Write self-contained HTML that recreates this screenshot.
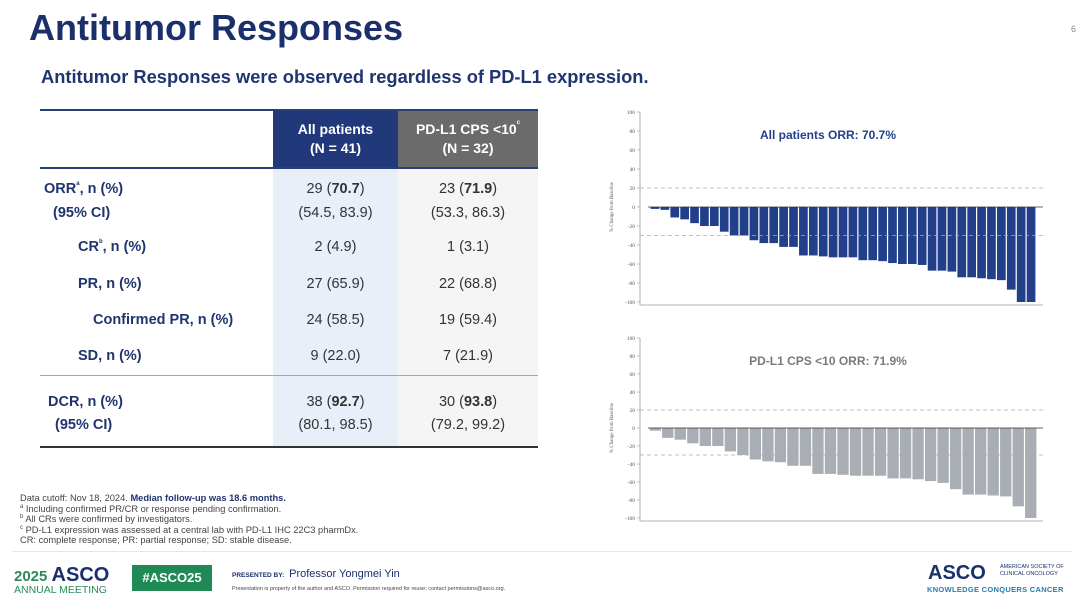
<!DOCTYPE html>
<html><head><meta charset="utf-8"><style>
*{margin:0;padding:0;box-sizing:border-box}
body{width:1080px;height:615px;background:#fff;position:relative;overflow:hidden;font-family:"Liberation Sans",Arial,sans-serif;color:#1f3470}
.a{position:absolute;white-space:nowrap}
.lab{font-weight:bold;font-size:14.5px;color:#1f3470}
.v{font-size:14.5px;color:#333;text-align:center}
.fn{font-size:9.3px;color:#444}
.sp{font-size:6px;vertical-align:top;line-height:6px}
</style></head><body>
<div class="a" style="left:29px;top:7px;font-size:36px;font-weight:bold;color:#1a2f6b">Antitumor Responses</div>
<div class="a" style="left:1071px;top:24px;font-size:9px;color:#888">6</div>
<div class="a" style="left:41px;top:66px;font-size:18.3px;font-weight:bold;color:#1f3470">Antitumor Responses were observed regardless of PD-L1 expression.</div>

<!-- table -->
<div class="a" style="left:273px;top:110px;width:125px;height:58px;background:#21397a"></div>
<div class="a" style="left:398px;top:110px;width:140px;height:58px;background:#6b6b6b"></div>
<div class="a" style="left:273px;top:168px;width:125px;height:279px;background:#e9eff8"></div>
<div class="a" style="left:398px;top:168px;width:140px;height:279px;background:#f5f5f5"></div>
<div class="a" style="left:40px;top:109px;width:498px;height:2px;background:#27407d"></div>
<div class="a" style="left:40px;top:167px;width:498px;height:2px;background:#27407d"></div>
<div class="a" style="left:40px;top:375px;width:498px;height:1px;background:#9aa8c6"></div>
<div class="a" style="left:40px;top:446px;width:498px;height:2px;background:#333"></div>
<div class="a" style="left:273px;top:120px;width:125px;text-align:center;color:#fff;font-weight:bold;font-size:14px;line-height:19px">All patients<br>(N = 41)</div>
<div class="a" style="left:398px;top:120px;width:140px;text-align:center;color:#fff;font-weight:bold;font-size:14px;line-height:19px">PD-L1 CPS &lt;10<span class="sp">c</span><br>(N = 32)</div>

<div class="a lab" style="left:44px;top:181px">ORR<span class="sp">a</span>, n (%)</div>
<div class="a lab" style="left:53px;top:205px">(95% CI)</div>
<div class="a lab" style="left:78px;top:239px">CR<span class="sp">b</span>, n (%)</div>
<div class="a lab" style="left:78px;top:276px">PR, n (%)</div>
<div class="a lab" style="left:93px;top:312px">Confirmed PR, n (%)</div>
<div class="a lab" style="left:78px;top:348px">SD, n (%)</div>
<div class="a lab" style="left:48px;top:394px">DCR, n (%)</div>
<div class="a lab" style="left:55px;top:417px">(95% CI)</div>

<div class="a v" style="left:273px;width:125px;top:181px">29 (<b>70.7</b>)</div>
<div class="a v" style="left:273px;width:125px;top:205px">(54.5, 83.9)</div>
<div class="a v" style="left:273px;width:125px;top:239px">2 (4.9)</div>
<div class="a v" style="left:273px;width:125px;top:276px">27 (65.9)</div>
<div class="a v" style="left:273px;width:125px;top:312px">24 (58.5)</div>
<div class="a v" style="left:273px;width:125px;top:348px">9 (22.0)</div>
<div class="a v" style="left:273px;width:125px;top:394px">38 (<b>92.7</b>)</div>
<div class="a v" style="left:273px;width:125px;top:417px">(80.1, 98.5)</div>
<div class="a v" style="left:398px;width:140px;top:181px">23 (<b>71.9</b>)</div>
<div class="a v" style="left:398px;width:140px;top:205px">(53.3, 86.3)</div>
<div class="a v" style="left:398px;width:140px;top:239px">1 (3.1)</div>
<div class="a v" style="left:398px;width:140px;top:276px">22 (68.8)</div>
<div class="a v" style="left:398px;width:140px;top:312px">19 (59.4)</div>
<div class="a v" style="left:398px;width:140px;top:348px">7 (21.9)</div>
<div class="a v" style="left:398px;width:140px;top:394px">30 (<b>93.8</b>)</div>
<div class="a v" style="left:398px;width:140px;top:417px">(79.2, 99.2)</div>

<!-- footnotes -->
<div class="a fn" style="left:20px;top:493px;line-height:10.6px">Data cutoff: Nov 18, 2024. <b style="color:#1f3470">Median follow-up was 18.6 months.</b><br><span class="sp">a</span> Including confirmed PR/CR or response pending confirmation.<br><span class="sp">b</span> All CRs were confirmed by investigators.<br><span class="sp">c</span> PD-L1 expression was assessed at a central lab with PD-L1 IHC 22C3 pharmDx.<br>CR: complete response; PR: partial response; SD: stable disease.</div>
<div class="a" style="left:12px;top:551px;width:1060px;height:1px;background:#e6e6e6"></div>
<div class="a" style="left:14px;top:565px;font-size:20px;font-weight:bold;color:#1a2f6b;line-height:20px"><span style="color:#2c8a5a;font-size:15px">2025 </span>ASCO</div>
<div class="a" style="left:14px;top:584px;font-size:10.5px;color:#2c8a5a">ANNUAL MEETING</div>
<div class="a" style="left:132px;top:565px;width:80px;height:26px;background:#1f8a56;color:#fff;font-weight:bold;font-size:13px;text-align:center;line-height:26px">#ASCO25</div>
<div class="a" style="left:232px;top:568px;font-size:11px;color:#1a2f6b"><span style="font-size:6.5px;font-weight:bold">PRESENTED BY: </span>&nbsp;Professor Yongmei Yin</div>
<div class="a" style="left:232px;top:586px;font-size:5.5px;color:#444">Presentation is property of the author and ASCO. Permission required for reuse; contact permissions@asco.org.</div>
<div class="a" style="left:928px;top:562px;font-size:20px;font-weight:bold;color:#1a2f6b;line-height:22px">ASCO</div>
<div class="a" style="left:1000px;top:564px;font-size:5.5px;color:#1a2f6b;line-height:7px">AMERICAN SOCIETY OF<br>CLINICAL ONCOLOGY</div>
<div class="a" style="left:927px;top:585px;font-size:7.5px;font-weight:bold;color:#2a7bab;letter-spacing:0.3px">KNOWLEDGE CONQUERS CANCER</div>

<svg class="a" style="left:0;top:0" width="1080" height="615" id="s"></svg>
<script>
const s=document.getElementById('s');let h='';
function chart(top,bot,vals,col,title,tc,x0,x1){
 const z=(top+bot)/2, k=(bot-top)/200;
 h+=`<line x1="640" y1="${top}" x2="640" y2="${bot+3}" stroke="#999" stroke-width="0.8"/>`;
 h+=`<line x1="640" y1="${bot+3}" x2="1043" y2="${bot+3}" stroke="#999" stroke-width="0.8"/>`;
 for(let v=100;v>=-100;v-=20){const y=z-v*k;h+=`<line x1="637" y1="${y}" x2="640" y2="${y}" stroke="#999" stroke-width="0.6"/><text x="635" y="${y+2}" font-size="5.5" text-anchor="end" fill="#555" font-family="Liberation Serif">${v}</text>`}
 h+=`<text transform="translate(613,${z}) rotate(-90)" font-size="5" text-anchor="middle" fill="#555" font-family="Liberation Serif">% Change from Baseline</text>`;
 const n=vals.length,w=(x1-x0)/n;
 vals.forEach((v,i)=>{h+=`<rect x="${x0+i*w+0.6}" y="${z}" width="${w-1.2}" height="${-v*k}" fill="${col}"/>`});
 h+=`<line x1="648" y1="${z}" x2="1043" y2="${z}" stroke="#333" stroke-width="0.8"/>`;
 [20,-30].forEach(v=>{h+=`<line x1="640" y1="${z-v*k}" x2="1043" y2="${z-v*k}" stroke="#aaa" stroke-width="0.8" stroke-dasharray="4,3"/>`});
 h+=`<text x="828" y="${top+27}" font-size="12" font-weight="bold" text-anchor="middle" fill="${tc}" font-family="Liberation Sans">${title}</text>`;
}
chart(112,302,[-2,-3,-11,-13,-17,-20,-20,-26,-30,-30,-35,-38,-38,-42,-42,-51,-51,-52,-53,-53,-53,-56,-56,-57,-59,-60,-60,-61,-67,-67,-68,-74,-74,-75,-76,-77,-87,-100,-100],'#22408a','All patients ORR: 70.7%','#22408a',650,1036);
chart(338,518,[-3,-11,-13,-17,-20,-20,-26,-30,-35,-37,-38,-42,-42,-51,-51,-52,-53,-53,-53,-56,-56,-57,-59,-61,-68,-74,-74,-75,-76,-87,-100],'#a9aeb5','PD-L1 CPS &lt;10 ORR: 71.9%','#7a7a7a',649,1037);
s.innerHTML=h;
</script>
</body></html>
